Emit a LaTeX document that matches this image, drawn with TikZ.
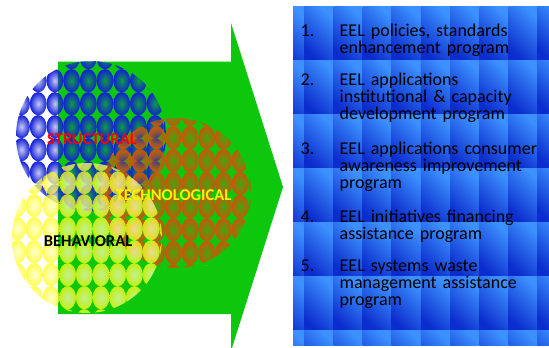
\documentclass[tikz,border=0pt]{standalone}
\usepackage{fontspec}
\setmainfont{Carlito}
\usetikzlibrary{fadings}

\definecolor{arrowgreen}{RGB}{12,199,12}
\definecolor{ballblue}{RGB}{18,32,215}
\definecolor{ballbrown}{RGB}{205,85,10}
\definecolor{ballyellow}{RGB}{255,255,20}
\definecolor{tiledark}{RGB}{12,45,205}
\definecolor{tilelight}{RGB}{60,145,255}

\tikzfading[name=ballfade, inner color=transparent!75, outer color=transparent!0]

\begin{document}
\begin{tikzpicture}[x=1pt, y=-1pt]
    \tikzstyle{circletext} = [font=\fontsize{16.5}{18}\selectfont\bfseries, anchor=base, inner sep=0pt]
    \tikzstyle{itemnum} = [font=\fontsize{18}{17}\selectfont, anchor=base west, inner sep=0pt]
    \tikzstyle{itemtext} = [itemnum, text width=210pt, align=left]
    \tikzstyle{tile} = [shading=axis, top color=tilelight, bottom color=tiledark, shading angle=-45]
    \tikzset{balls/.style={circle, inner sep=0pt, minimum size=150pt, path picture={
        \foreach \i in {-5,...,5}
            \foreach \j in {-4,...,4}
                \path[#1] ([shift={(\i*16.7-2.7,\j*23-9.3)}]path picture bounding box.center) ellipse [x radius=8.4pt, y radius=11.6pt];
    }}}

    \useasboundingbox (0,0) rectangle (549,348);

    % big green arrow
    \fill[arrowgreen] (58,61.5) -- (231,61.5) -- (231,23) -- (283,187) -- (231,351) -- (231,314) -- (58,314) -- cycle;

    % the three circles
    \node (structural) [balls={fill=ballblue, path fading=ballfade, fit fading=true}] at (91,136) {};
    \node (technological) [balls={fill=ballbrown, path fading=ballfade, fit fading=true}] at (176,193) {};
    \node (behavioral) [balls={shade, inner color=ballyellow!25!white, outer color=ballyellow, fill opacity=0.75}] at (87,238) {};

    \node (structuraltext) [circletext, red] at (92,144) {STRUCTURAL};
    \node (technologicaltext) [circletext, yellow] at (173.5,200) {TECHNOLOGICAL};
    \node (behavioraltext) [circletext] at (88,246) {BEHAVIORAL};

    % tiled blue panel
    \begin{scope}
        \clip (293,6) rectangle (549,345);
        \foreach \col in {0,...,9}
            \foreach \row in {0,...,6}
                \shade[tile] ({274.9+29.2*\col},{6+54*\row}) rectangle +(29.3,54.1);
    \end{scope}

    % program list
    \node (num1) [itemnum] at (300.5,36.5) {1.};
    \node (item1) [itemtext] at (339.5,36.5) {EEL policies, standards\\enhancement program};
    \node (num2) [itemnum] at (300.5,85) {2.};
    \node (item2) [itemtext] at (339.5,85) {EEL applications\\institutional \& capacity\\development program};
    \node (num3) [itemnum] at (300.5,154) {3.};
    \node (item3) [itemtext] at (339.5,154) {EEL applications consumer\\awareness improvement\\program};
    \node (num4) [itemnum] at (300.5,222) {4.};
    \node (item4) [itemtext] at (339.5,222) {EEL initiatives financing\\assistance program};
    \node (num5) [itemnum] at (300.5,271.5) {5.};
    \node (item5) [itemtext] at (339.5,271.5) {EEL systems waste\\management assistance\\program};
\end{tikzpicture}
\end{document}
